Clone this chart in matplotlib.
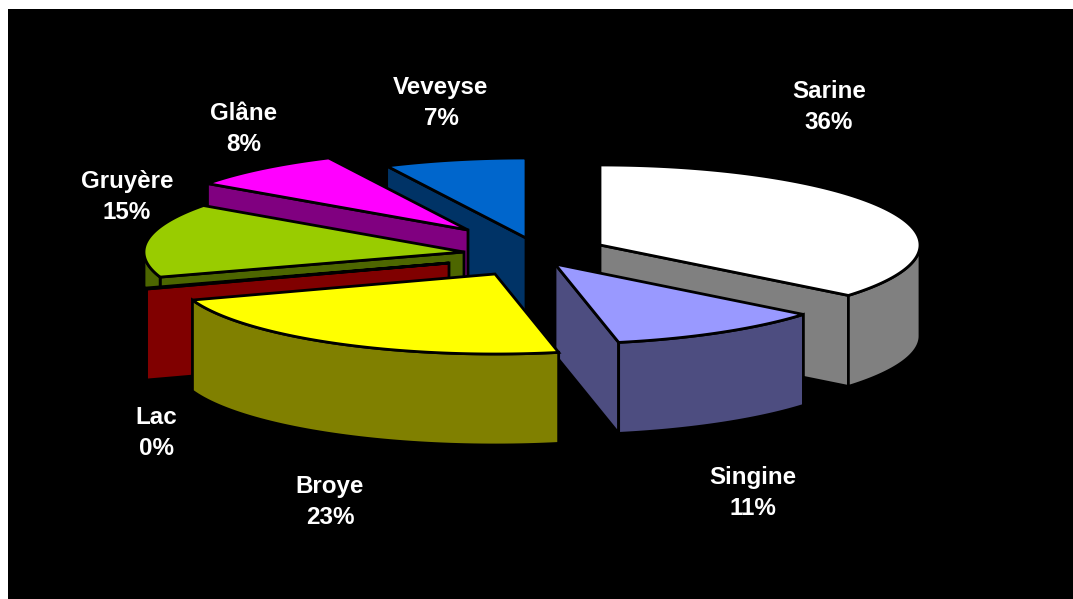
import numpy as np
import matplotlib
matplotlib.use("Agg")
import matplotlib.pyplot as plt
from matplotlib.patches import Polygon

districts = ["Sarine", "Singine", "Broye", "Lac", "Gruyère", "Glâne", "Veveyse"]
shares = [36, 11, 23, 0.2, 15, 8, 7.2]

top_colors = ["#ffffff", "#9999ff", "#ffff00", "#800000", "#99cc00", "#ff00ff", "#0066cc"]
side_colors = ["#808080", "#4d4d80", "#808000", "#800000", "#4d6600", "#800080", "#003366"]

# how far each slice is pulled out of the pie
explode_x = [70, 25, -35, -81, -66, -62, -4]
explode_y = [-5, 14, 24, 13, 2, -20, -12]

label_x = [829, 753, 330, 156, 127, 244, 441]
label_y = [107, 493, 502, 433, 197, 129, 103]

center_x, center_y = 530, 250
rx, ry = 320, 80
depth = 91
line_w = 2.0

# back slices first, front slices cover them
draw_order = [6, 5, 4, 3, 0, 1, 2]


def rim(theta, ox, oy, drop=0):
    # theta is in degrees, clockwise from the top of the pie
    t = np.radians(theta)
    return np.column_stack([ox + rx * np.sin(t), oy - ry * np.cos(t) + drop])


def draw_slice(ax, start, end, ox, oy, top, side):
    apex = np.array([[ox, oy]])
    drop = np.array([0, depth])

    faces = []
    if np.sin(np.radians(start)) < 0:
        faces.append(start)
    if np.sin(np.radians(end)) > 0:
        faces.append(end)
    for angle in faces:
        p = rim(np.array([angle]), ox, oy)
        pts = np.vstack([apex, p, p + drop, apex + drop])
        ax.add_patch(Polygon(pts, fc=side, ec="black", lw=line_w))

    # outer wall, only the part facing the viewer
    a = max(start, 90)
    b = min(end, 270)
    if b > a:
        arc = rim(np.linspace(a, b, 60), ox, oy)
        pts = np.vstack([arc, (arc + drop)[::-1]])
        ax.add_patch(Polygon(pts, fc=side, ec="black", lw=line_w))

    arc = rim(np.linspace(start, end, 120), ox, oy)
    ax.add_patch(Polygon(np.vstack([apex, arc]), fc=top, ec="black", lw=line_w))


fig = plt.figure(figsize=(10.73, 5.99), dpi=100, facecolor="white")
ax = fig.add_axes([8 / 1073, 0, 1 - 8 / 1073, 1 - 9 / 599], facecolor="black")
ax.set_xlim(8, 1073)
ax.set_ylim(599, 9)
ax.set_xticks([])
ax.set_yticks([])
for s in ax.spines.values():
    s.set_visible(False)

total = sum(shares)
edges = np.concatenate([[0], np.cumsum(shares)]) / total * 360

for i in draw_order:
    draw_slice(ax, edges[i], edges[i + 1],
               center_x + explode_x[i], center_y + explode_y[i],
               top_colors[i], side_colors[i])

for i, name in enumerate(districts):
    pct = round(shares[i] / total * 100)
    ax.text(label_x[i], label_y[i], name + "\n" + str(pct) + "%",
            ha="center", va="center", color="white", fontsize=17.4,
            fontweight="bold", family="Liberation Sans", linespacing=1.47)

fig.savefig("out.png", dpi=100, facecolor="white")
